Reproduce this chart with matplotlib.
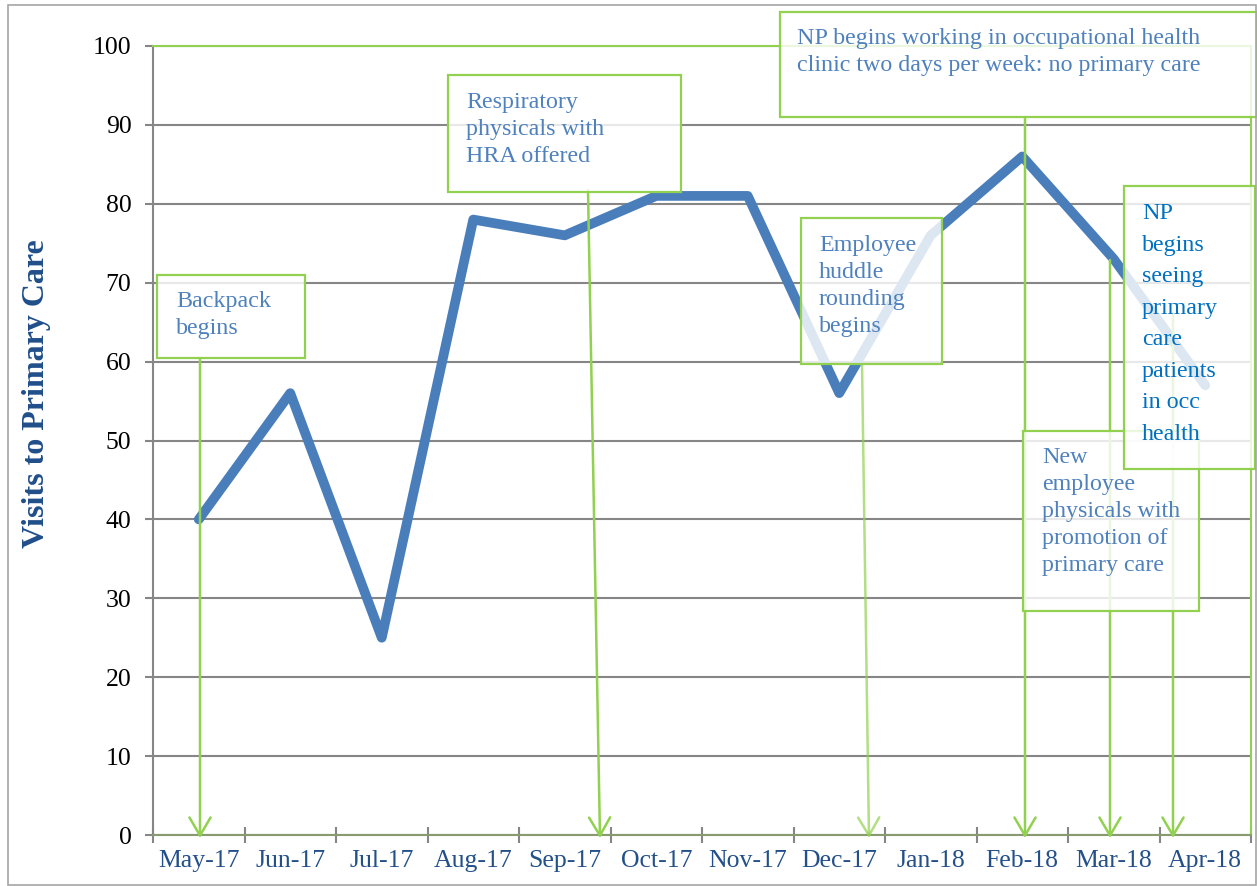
import matplotlib
matplotlib.use('Agg')
import matplotlib.pyplot as plt
import numpy as np
from matplotlib.patches import Rectangle, FancyArrowPatch

# ---- data ----
months = ['May-17', 'Jun-17', 'Jul-17', 'Aug-17', 'Sep-17', 'Oct-17',
          'Nov-17', 'Dec-17', 'Jan-18', 'Feb-18', 'Mar-18', 'Apr-18']
visits = [40, 56, 25, 78, 76, 81, 81, 56, 76, 86, 73, 57]
yticks = list(range(0, 101, 10))
ylabel = 'Visits to Primary Care'

note_texts = [
    'Backpack\nbegins',
    'Respiratory\nphysicals with\nHRA offered',
    'Employee\nhuddle\nrounding\nbegins',
    'NP begins working in occupational health\nclinic two days per week: no primary care',
    'New\nemployee\nphysicals with\npromotion of\nprimary care',
    'NP\nbegins\nseeing\nprimary\ncare\npatients\nin occ\nhealth',
]

# ---- layout (data units: x = category index, y = visits) ----
W, H = 1257, 886
AX_L, AX_R, AX_T, AX_B = 153, 1251, 46, 835


def dx(px):
    return (px - AX_L) / ((AX_R - AX_L) / 12) - 0.5


def dy(py):
    return (AX_B - py) / ((AX_B - AX_T) / 100)


# box: (left, top, right, bottom) px; text anchor (left, top) px; linespacing; color
boxes = [
    ((157, 275, 305, 358), (176, 291), 1.38, '#4F81BD'),
    ((448, 75, 681, 192), (466, 92), 1.38, '#4F81BD'),
    ((801, 218, 942, 364), (819, 235), 1.38, '#4F81BD'),
    ((780, 12, 1257, 117), (797, 28), 1.38, '#4F81BD'),
    ((1023, 431, 1199, 611), (1042, 447), 1.38, '#4F81BD'),
    ((1124, 186, 1255, 469), (1142, 203), 1.66, '#0070C0'),
]
# arrows: (start px), (end px), alpha
arrows = [
    ((200, 358), (200, 838), 1.0),
    ((588, 190), (600, 838), 1.0),
    ((862, 364), (869, 838), 0.7),
    ((1025, 117), (1025, 838), 1.0),
    ((1110, 260), (1110, 838), 1.0),
    ((1173, 313), (1173, 838), 1.0),
]
box_z = [5, 5, 5, 5, 5, 6]

plt.rcParams['font.family'] = ['Liberation Serif', 'DejaVu Serif']

fig = plt.figure(figsize=(W / 100, H / 100), dpi=100)
ax = fig.add_axes([AX_L / W, (H - AX_B) / H, (AX_R - AX_L) / W, (AX_B - AX_T) / H])

ax.plot(range(len(months)), visits, color='#4A7EBB', lw=7,
        solid_joinstyle='round', solid_capstyle='round', zorder=3)

ax.set_xlim(-0.5, len(months) - 0.5)
ax.set_ylim(0, 100)
ax.set_yticks(yticks)
ax.set_xticks(range(len(months)))
ax.set_xticklabels(months)
ax.set_xticks(np.arange(-0.5, len(months), 1), minor=True)
ax.grid(axis='y', color='#868686', lw=1.5)
ax.set_axisbelow(True)

ax.tick_params(axis='x', which='major', length=0, pad=11, labelsize=18.5,
               labelcolor='#24508A')
ax.tick_params(axis='x', which='minor', length=11, direction='inout',
               color='#868686', width=1.5)
ax.tick_params(axis='y', length=5.5, width=1.5, color='#868686', pad=10,
               labelsize=18.5, labelcolor='black')

for s in ['top', 'right']:
    ax.spines[s].set_color('#92D050')
    ax.spines[s].set_linewidth(1.5)
ax.spines['left'].set_color('#868686')
ax.spines['left'].set_linewidth(1.5)
ax.spines['bottom'].set_color('#8A9A70')
ax.spines['bottom'].set_linewidth(1.5)

fig.text(37 / W, 1 - 394 / H, ylabel, rotation=90, fontsize=23,
         fontweight='bold', color='#1F4E89', ha='center', va='center')

for (p0, p1, a) in arrows:
    arr = FancyArrowPatch((dx(p0[0]), dy(p0[1])), (dx(p1[0]), dy(p1[1])),
                          arrowstyle='->,head_length=0.65,head_width=0.38',
                          mutation_scale=20, color='#92D050', lw=1.8,
                          alpha=a, shrinkA=0, shrinkB=0, clip_on=False,
                          zorder=4)
    ax.add_patch(arr)

for (txt, (b, t, ls, col), z) in zip(note_texts, boxes, box_z):
    l, tp, r, bt = b
    rect = Rectangle((dx(l), dy(bt)), dx(r) - dx(l), dy(tp) - dy(bt),
                     facecolor=(1, 1, 1, 0.82), edgecolor='#92D050', lw=1.6,
                     clip_on=False, zorder=z)
    ax.add_patch(rect)
    ax.text(dx(t[0]), dy(t[1]), txt, ha='left', va='top', fontsize=17.3,
            color=col, linespacing=ls, zorder=z + 0.5, clip_on=False)

border = Rectangle((8 / W, 1 / H), (1256 - 8) / W, (885 - 5) / H,
                   transform=fig.transFigure, fill=False,
                   edgecolor='#A6A6A6', lw=1.2)
fig.patches.append(border)

fig.savefig('out.png', dpi=100)
